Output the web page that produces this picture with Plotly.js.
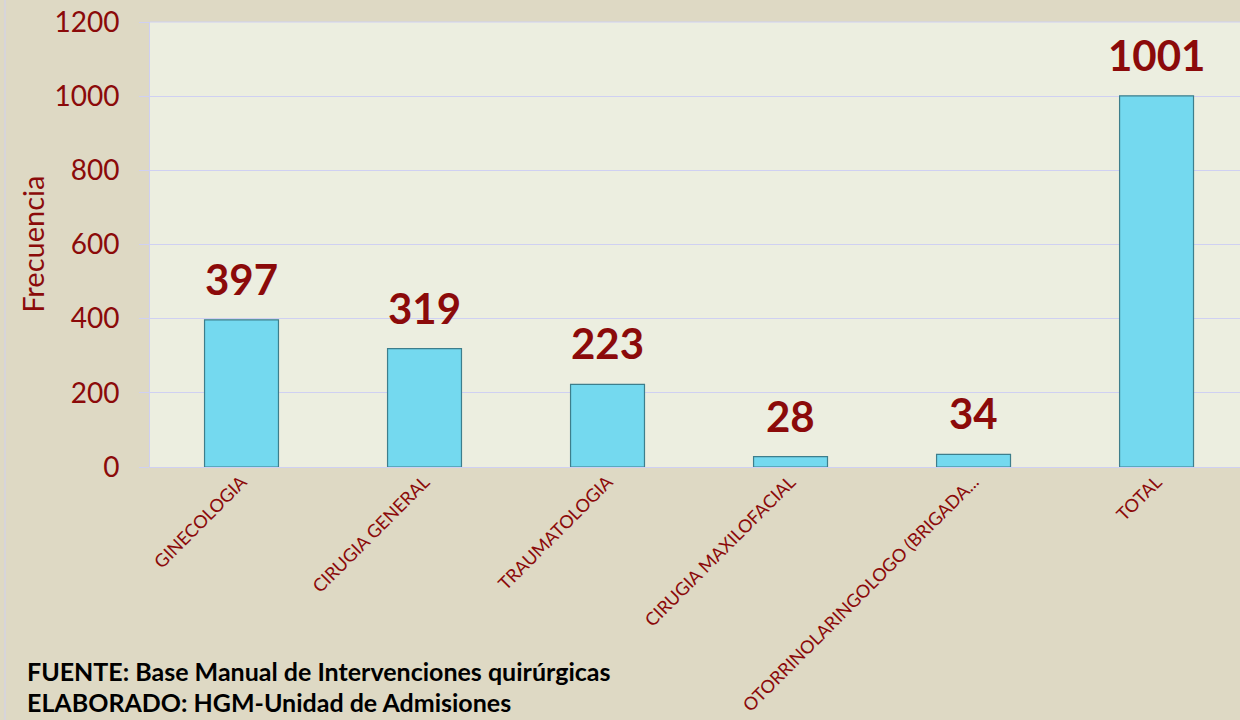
<!DOCTYPE html>
<html>
<head>
<meta charset="utf-8">
<script src="https://cdn.plot.ly/plotly-3.0.1.min.js"></script>
<style>
html,body{margin:0;padding:0;background:#ded9c4;}
#chart{width:1240px;height:720px;}
</style>
</head>
<body>
<div id="chart"></div>
<script>
const categories = ["GINECOLOGIA", "CIRUGIA GENERAL", "TRAUMATOLOGIA", "CIRUGIA MAXILOFACIAL", "OTORRINOLARINGOLOGO (BRIGADA...", "TOTAL"];
const values = [397, 319, 223, 28, 34, 1001];
const yTicks = [0, 200, 400, 600, 800, 1000, 1200];
const yTitle = "Frecuencia";
const footer1 = "FUENTE: Base Manual de Intervenciones quirúrgicas";
const footer2 = "ELABORADO: HGM-Unidad de Admisiones";

const dark = "#8b0a0a";
const font = "Lato, 'Open Sans', sans-serif";

const trace = {
  type: "bar",
  x: categories,
  y: values,
  width: 0.404,
  marker: {color: "#74d9ef", line: {color: "#3d7e8c", width: 1.2}},
  hoverinfo: "x+y"
};

const annotations = categories.map((c, i) => ({
  x: c, y: values[i], xref: "x", yref: "y",
  text: "<b>" + values[i] + "</b>", showarrow: false,
  yanchor: "bottom", yshift: 14,
  font: {family: font, size: 42, color: dark}
}));
annotations.push({
  xref: "paper", yref: "paper", x: -0.108, y: 0.5, textangle: -90,
  text: yTitle, showarrow: false, xanchor: "center", yanchor: "middle",
  font: {family: font, size: 29, color: dark}
});
annotations.push({
  xref: "paper", yref: "paper", x: -0.1147, y: -0.458, xanchor: "left", yanchor: "middle",
  text: "<b>" + footer1 + "</b>", showarrow: false,
  font: {family: font, size: 25, color: "#000"}
});
annotations.push({
  xref: "paper", yref: "paper", x: -0.1147, y: -0.566, xanchor: "left", yanchor: "bottom",
  text: "<b>" + footer2 + "</b>", showarrow: false,
  font: {family: font, size: 25, color: "#000"}
});

const layout = {
  width: 1240, height: 720,
  margin: {l: 150, r: 0, t: 22, b: 253},
  paper_bgcolor: "#ded9c4",
  plot_bgcolor: "#eceee0",
  showlegend: false,
  xaxis: {
    type: "category",
    range: [-0.5, 5.456],
    tickangle: -45,
    tickfont: {family: font, size: 18, color: dark},
    showgrid: false, zeroline: false, showline: false,
    ticks: "", fixedrange: true
  },
  yaxis: {
    range: [0, 1200],
    tickvals: yTicks,
    tickfont: {family: font, size: 28, color: dark},
    gridcolor: "#cfd0f2", gridwidth: 1,
    zeroline: true, zerolinecolor: "#cfd0f2", zerolinewidth: 1,
    showline: true, linecolor: "#cfd0f2", linewidth: 1,
    ticks: "outside", ticklen: 10, tickcolor: "#cfd0f2",
    ticklabelstandoff: 14,
    fixedrange: true
  },
  annotations: annotations,
  shapes: [
    {type: "line", xref: "paper", yref: "paper", x0: 0, x1: 1, y0: 1, y1: 1, line: {color: "#cfd0f2", width: 1}},
    {type: "line", xref: "paper", yref: "paper", x0: -0.133, x1: -0.133, y0: 1.05, y1: -0.57, line: {color: "#cfd0f2", width: 1}}
  ]
};

Plotly.newPlot("chart", [trace], layout, {displayModeBar: false});
</script>
</body>
</html>
